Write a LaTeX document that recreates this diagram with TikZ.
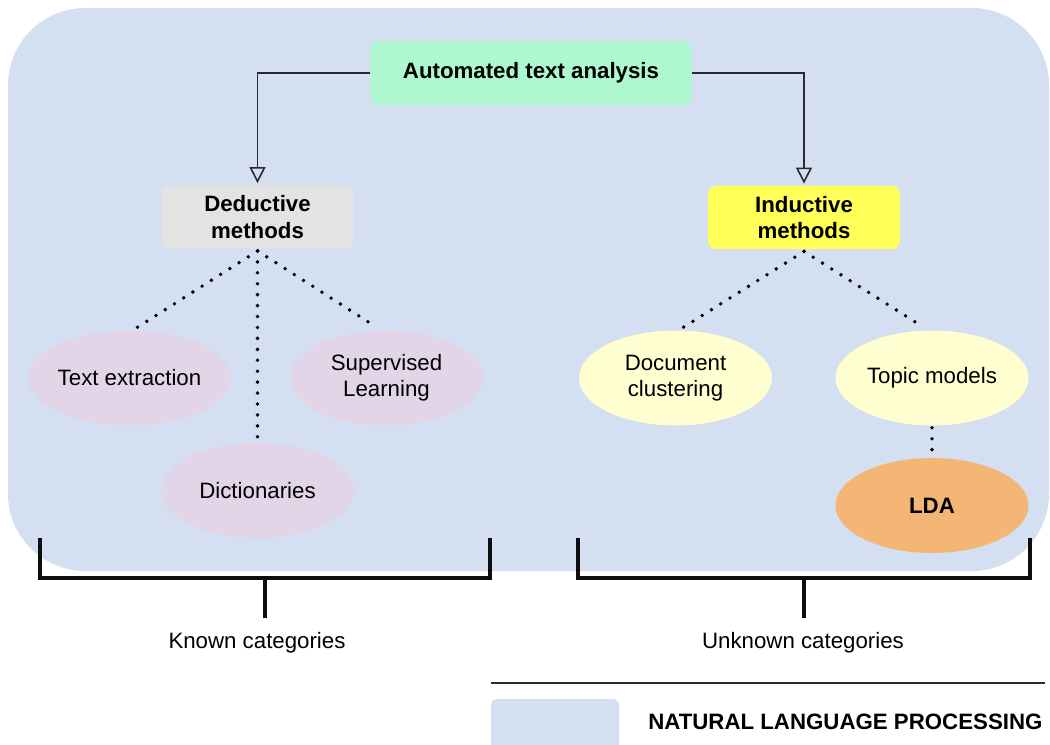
\documentclass[tikz,border=0pt]{standalone}
\usepackage{fontspec}
\setmainfont{Liberation Sans}
\usetikzlibrary{arrows.meta,shapes.geometric,positioning}

\definecolor{nlpblue}{HTML}{D4DFF1}
\definecolor{rootgreen}{HTML}{AEF8D1}
\definecolor{dedgray}{HTML}{E3E3E3}
\definecolor{indyellow}{HTML}{FFFF57}
\definecolor{lavender}{HTML}{E1D5E7}
\definecolor{paleyellow}{HTML}{FFFED0}
\definecolor{ldaorange}{HTML}{F3B674}
\definecolor{linegray}{HTML}{2A2A2A}

\tikzset{
  txt/.style={font=\fontsize{16.7}{19.7}\selectfont, text=black, align=center},
  boldtxt/.style={txt, font=\fontsize{16.7}{19.7}\selectfont\bfseries},
  methodbox/.style={boldtxt, rectangle, rounded corners=6pt, inner sep=0pt,
    minimum width=143.5pt, minimum height=47.5pt},
  leaf/.style={txt, ellipse, inner sep=0pt, minimum width=144.75pt, minimum height=71.25pt},
  link/.style={draw=linegray, line width=1.3pt,
    -{Triangle[open, length=12pt, width=12pt, line width=1.2pt]}, shorten >=1.5pt},
  dotlink/.style={draw=black, line width=2.9pt, line cap=round,
    dash pattern=on 0pt off 8.2pt},
  bracket/.style={draw=black!95, line width=2.3pt}
}

\begin{document}
\begin{tikzpicture}[x=0.75pt, y=-0.75pt]
  \useasboundingbox (0,0) rectangle (1050,745);

  % natural language processing area
  \fill[nlpblue, rounded corners=58pt] (8,8) rectangle (1049,571);

  % root and the two method families
  \node[boldtxt, rectangle, rounded corners=6pt, fill=rootgreen, inner sep=0pt,
        minimum width=240.75pt, minimum height=48pt] (root) at (531,73) {Automated text analysis};
  \node[methodbox, fill=dedgray] (ded) at (257.5,217) {Deductive\\methods};
  \node[methodbox, fill=indyellow, minimum width=144pt] (ind) at (804,217.5) {Inductive\\methods};

  \draw[link] (root.west) -| (ded.north);
  \draw[link] (root.east) -| (ind.north);

  % deductive techniques
  \node[leaf, fill=lavender] (tex) at (129.5,378) {Text extraction};
  \node[leaf, fill=lavender] (sup) at (386.5,378) {Supervised\\Learning};
  \node[leaf, fill=lavender] (dic) at (257.5,490.5) {Dictionaries};

  % inductive techniques
  \node[leaf, fill=paleyellow] (doc) at (675.5,378) {Document\\clustering};
  \node[leaf, fill=paleyellow] (top) at (932,378) {Topic models};
  \node[leaf, fill=ldaorange, boldtxt] (lda) at (932,505.5) {LDA};

  \draw[dotlink] ([yshift=-1.5pt]ded.south) -- ([xshift=5.6pt,yshift=2pt]tex.north);
  \draw[dotlink] ([yshift=-1.5pt]ded.south) -- ([yshift=2pt]dic.north);
  \draw[dotlink] ([yshift=-1.5pt]ded.south) -- ([xshift=-7pt,yshift=2pt]sup.north);
  \draw[dotlink] ([yshift=-1.5pt]ind.south) -- ([xshift=5.6pt,yshift=2pt]doc.north);
  \draw[dotlink] ([yshift=-1.5pt]ind.south) -- ([xshift=-6pt,yshift=2pt]top.north);
  \draw[dotlink] ([yshift=-1.5pt]top.south) -- ([yshift=1.5pt]lda.north);

  % brackets grouping the categories
  \coordinate (kl) at (40,538);
  \coordinate (kr) at (490,538);
  \coordinate (km) at (265,578);
  \coordinate (kb) at (265,618);
  \coordinate (ul) at (578,538);
  \coordinate (ur) at (1030,538);
  \coordinate (um) at (804,578);
  \coordinate (ub) at (804,618);

  \node[txt] (known) at (257,643) {Known categories};
  \node[txt] (unknown) at (803,643) {Unknown categories};

  \draw[bracket] (kl) |- (km) -| (kr);
  \draw[bracket] (km) -- (kb);
  \draw[bracket] (ul) |- (um) -| (ur);
  \draw[bracket] (um) -- (ub);

  % legend
  \coordinate (sepl) at (491,683);
  \coordinate (sepr) at (1045,683);
  \draw[linegray, line width=1.1pt] (sepl) -- (sepr);
  \fill[nlpblue, rounded corners=4pt] (491,699) rectangle (619,760);
  \node[boldtxt, anchor=west, inner sep=0pt] (nlp) at (648,722) {NATURAL LANGUAGE PROCESSING};
\end{tikzpicture}
\end{document}
